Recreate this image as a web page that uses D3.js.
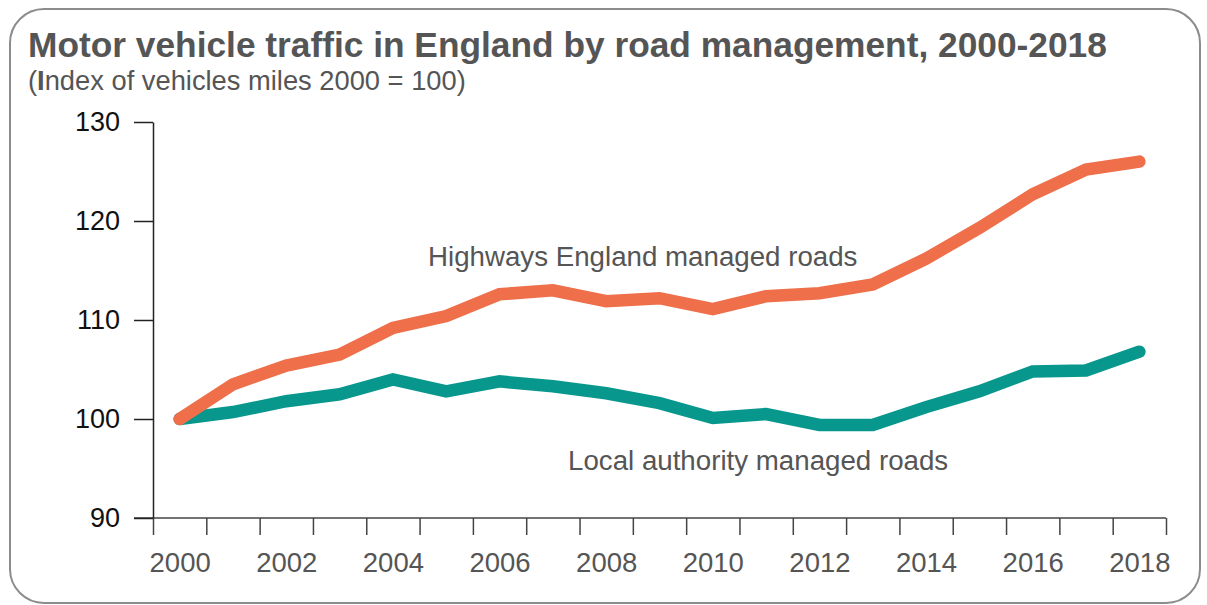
<!DOCTYPE html>
<html>
<head>
<meta charset="utf-8">
<script src="https://cdn.jsdelivr.net/npm/d3@7"></script>
<style>
  body { margin: 0; background: #fff; }
  text { font-family: "Liberation Sans", Arial, sans-serif; }
</style>
</head>
<body>
<div id="chart"></div>
<script>
// data
var years = [2000, 2001, 2002, 2003, 2004, 2005, 2006, 2007, 2008, 2009,
             2010, 2011, 2012, 2013, 2014, 2015, 2016, 2017, 2018];
var highways = [100, 103.5, 105.4, 106.5, 109.2, 110.4, 112.6, 113.0, 111.9, 112.2,
                111.1, 112.4, 112.7, 113.6, 116.2, 119.3, 122.7, 125.2, 126.0];
var local = [100, 100.7, 101.8, 102.5, 104.0, 102.8, 103.8, 103.3, 102.6, 101.6,
             100.1, 100.5, 99.4, 99.4, 101.2, 102.8, 104.8, 104.9, 106.8];
var yTicks = [90, 100, 110, 120, 130];
var xLabels = [2000, 2002, 2004, 2006, 2008, 2010, 2012, 2014, 2016, 2018];

var width = 1207, height = 605;
var plotLeft = 153, plotRight = 1166, plotTop = 122, plotBottom = 518;

var svg = d3.select("#chart")
  .append("svg")
    .attr("width", width)
    .attr("height", height);

// rounded frame
svg.append("rect")
    .attr("x", 10)
    .attr("y", 9)
    .attr("width", 1190)
    .attr("height", 594)
    .attr("rx", 34)
    .attr("fill", "none")
    .attr("stroke", "#8c8c8c")
    .attr("stroke-width", 2);

// titles
svg.append("text")
    .attr("x", 28)
    .attr("y", 57)
    .attr("fill", "#555")
    .style("font-size", "35.3px")
    .style("font-weight", "bold")
    .text("Motor vehicle traffic in England by road management, 2000-2018");

var sub = svg.append("text")
    .attr("x", 28)
    .attr("y", 90)
    .attr("fill", "#555")
    .style("font-size", "27.3px");
sub.append("tspan").text("(");
sub.append("tspan").style("font-weight", "bold").text("I");
sub.append("tspan").text("ndex of vehicles miles 2000 = 100)");

// scales: ticks sit between years, points at year centres
var x = d3.scaleLinear()
    .domain([years[0] - 0.5, years[years.length - 1] + 0.5])
    .range([plotLeft, plotRight]);

var y = d3.scaleLinear()
    .domain([90, 130])
    .range([plotBottom, plotTop]);

// x axis: tick marks at year boundaries
var xBounds = years.map(function(d) { return d - 0.5; }).concat([years[years.length - 1] + 0.5]);
var xAxis = svg.append("g")
    .attr("transform", "translate(0," + plotBottom + ")")
    .call(d3.axisBottom(x).tickValues(xBounds).tickSize(17).tickSizeOuter(0).tickFormat(""));
xAxis.select(".domain").remove();
xAxis.selectAll("line").attr("stroke", "#444").attr("stroke-width", 1.5);

// x labels
var xLab = svg.append("g")
    .attr("transform", "translate(0," + plotBottom + ")")
    .call(d3.axisBottom(x).tickValues(xLabels).tickSize(0).tickPadding(54).tickFormat(d3.format("d")));
xLab.select(".domain").remove();
xLab.selectAll("text")
    .attr("fill", "#555")
    .attr("dy", 0)
    .style("font-size", "27.5px")
    .style("font-family", "Liberation Sans, Arial, sans-serif");

// baseline across the bottom
svg.append("line")
    .attr("x1", 134)
    .attr("x2", plotRight)
    .attr("y1", plotBottom)
    .attr("y2", plotBottom)
    .attr("stroke", "#444")
    .attr("stroke-width", 1.5);

// y axis
var yAxis = svg.append("g")
    .attr("transform", "translate(" + plotLeft + ",0)")
    .call(d3.axisLeft(y).tickValues(yTicks).tickSize(19).tickPadding(14).tickSizeOuter(0));
yAxis.select(".domain").attr("stroke", "#222").attr("stroke-width", 1.5);
yAxis.selectAll("line").attr("stroke", "#222").attr("stroke-width", 1.5);
yAxis.selectAll("text")
    .attr("fill", "#111")
    .style("font-size", "27px")
    .style("font-family", "Liberation Sans, Arial, sans-serif");

// lines
var line = d3.line()
    .x(function(d, i) { return x(years[i]); })
    .y(function(d) { return y(d); });

svg.append("path")
    .datum(local)
    .attr("d", line)
    .attr("fill", "none")
    .attr("stroke", "#08978c")
    .attr("stroke-width", 12.5)
    .attr("stroke-linecap", "round")
    .attr("stroke-linejoin", "miter");

svg.append("path")
    .datum(highways)
    .attr("d", line)
    .attr("fill", "none")
    .attr("stroke", "#ee6f4a")
    .attr("stroke-width", 12.5)
    .attr("stroke-linecap", "round")
    .attr("stroke-linejoin", "miter");

// series labels
svg.append("text")
    .attr("x", 428)
    .attr("y", 266)
    .attr("fill", "#555")
    .style("font-size", "27.7px")
    .text("Highways England managed roads");

svg.append("text")
    .attr("x", 568)
    .attr("y", 470)
    .attr("fill", "#555")
    .style("font-size", "27.7px")
    .text("Local authority managed roads");
</script>
</body>
</html>
